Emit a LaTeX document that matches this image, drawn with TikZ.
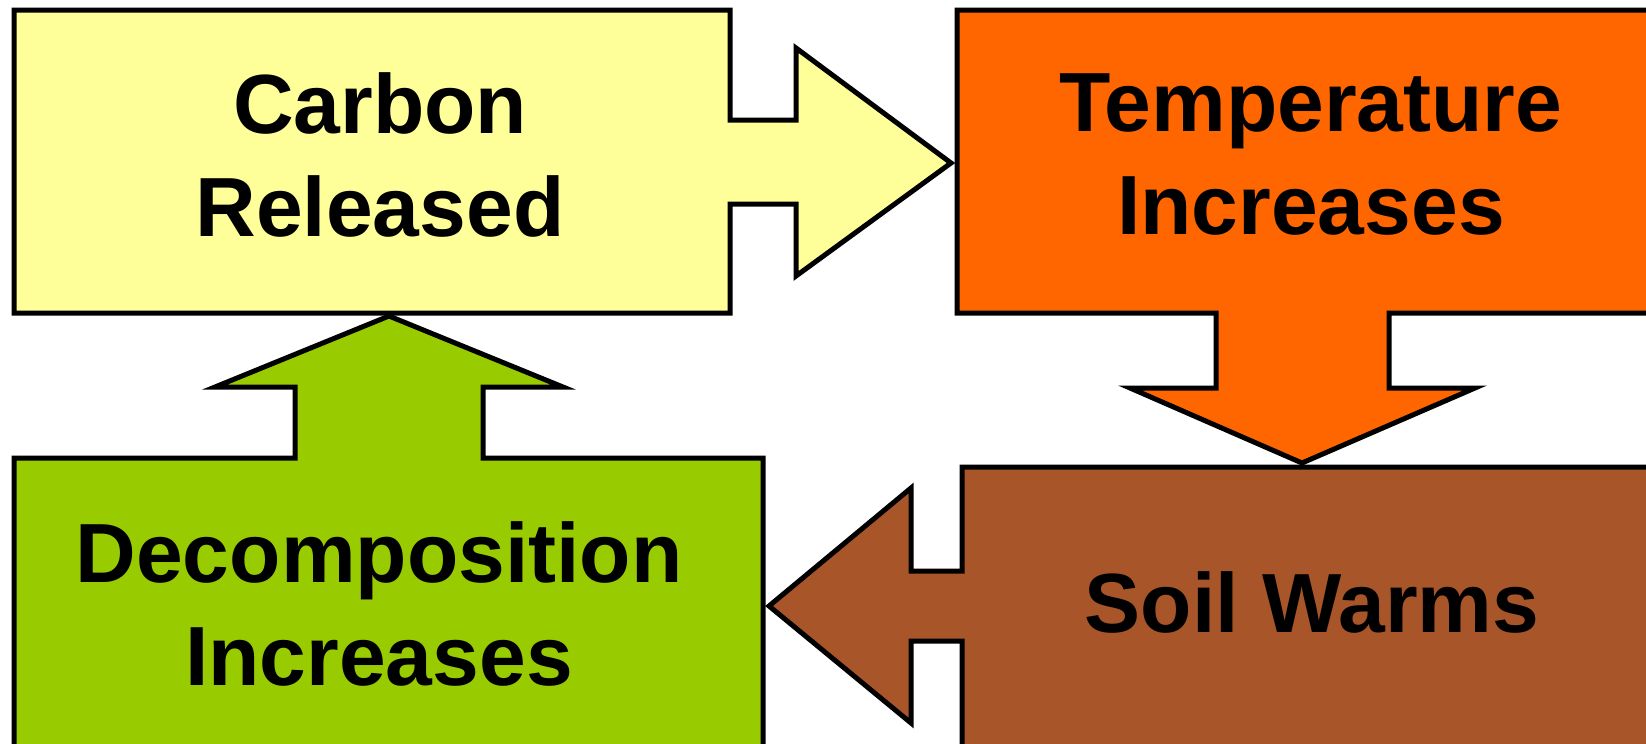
\documentclass[tikz,border=0pt]{standalone}
\usepackage{fontspec}
\setmainfont{Liberation Sans}
\definecolor{cyellow}{HTML}{FFFF99}
\definecolor{corange}{HTML}{FF6600}
\definecolor{cbrown}{HTML}{A9552A}
\definecolor{cgreen}{HTML}{99CC00}
\tikzset{
  blockshape/.style={draw=black, line width=2.5pt, line join=miter},
  label/.style={font=\bfseries\fontsize{42}{51.5}\selectfont, align=center, inner sep=0pt, text=black}
}
\begin{document}
\begin{tikzpicture}[x=0.5pt,y=-0.5pt]
\useasboundingbox (0,0) rectangle (1646,744);
\clip (0,0) rectangle (1646,744);
% Carbon Released with right arrow
\path[blockshape, fill=cyellow] (14,10) -- (730,10) -- (730,120) -- (796,120) -- (796,48) -- (951,163) -- (796,276) -- (796,204) -- (730,204) -- (730,313) -- (14,313) -- cycle;
% Temperature Increases with down arrow
\path[blockshape, fill=corange] (957,10) -- (1670,10) -- (1670,313) -- (1389,313) -- (1389,388) -- (1475,388) -- (1302,463) -- (1130,388) -- (1216,388) -- (1216,313) -- (957,313) -- cycle;
% Soil Warms with left arrow
\path[blockshape, fill=cbrown] (962,467) -- (1670,467) -- (1670,752) -- (962,752) -- (962,641) -- (911,641) -- (911,723) -- (769,606) -- (911,488) -- (911,571) -- (962,571) -- cycle;
% Decomposition Increases with up arrow
\path[blockshape, fill=cgreen] (14,458) -- (295,458) -- (295,387) -- (215,387) -- (389,316) -- (563,387) -- (483,387) -- (483,458) -- (763,458) -- (763,752) -- (14,752) -- cycle;
% Labels
\node[label] (carbon) at (380,155) {Carbon\\Released};
\node[label] (temp) at (1311,155) {Temperature\\Increases};
\node[label] (soil) at (1312,602) {Soil Warms};
\node[label] (decomp) at (379,604) {Decomposition\\Increases};
\end{tikzpicture}
\end{document}
